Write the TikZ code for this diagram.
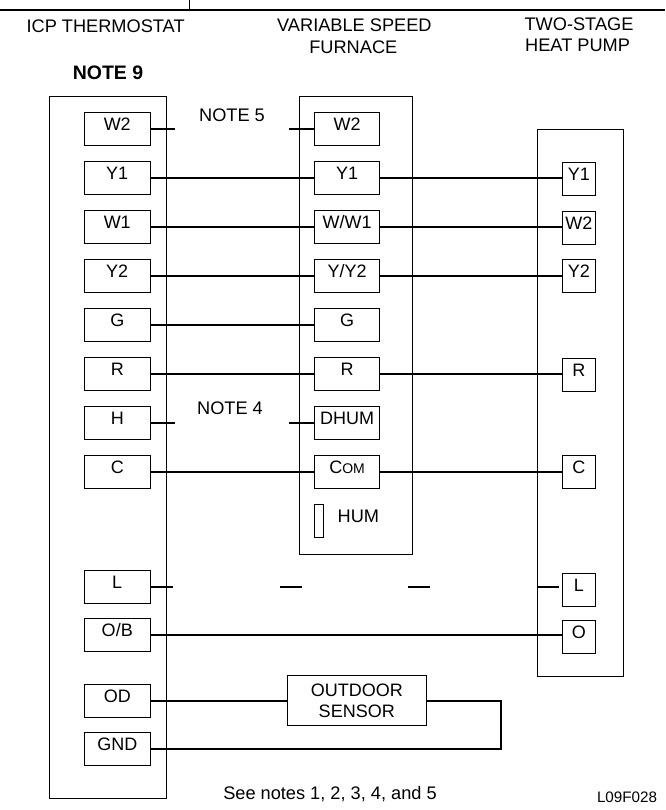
\documentclass[tikz,border=0pt]{standalone}
\usepackage{fontspec}
\setmainfont{Liberation Sans}
\newcommand{\tl}[1]{\raisebox{-1.5pt}[0pt][0pt]{#1}}
\tikzset{
  x=1pt,y=-1pt,
  housing/.style={draw=black,line width=1pt,inner sep=0pt,anchor=north west},
  terminal/.style={draw=black,line width=1pt,inner sep=0pt,font=\fontsize{18}{20}\selectfont,minimum height=33pt},
  lterm/.style={terminal,minimum width=65.7pt},
  rterm/.style={terminal,minimum width=33pt},
  wire/.style={draw=black,line width=1.8pt},
  txt/.style={inner sep=0pt,anchor=base,font=\fontsize{18.2}{20}\selectfont},
  sensorbox/.style={draw=black,line width=1pt,inner sep=0pt,minimum width=138.5pt,minimum height=49.3pt,align=center,font=\fontsize{18}{21.3}\selectfont},
}
\begin{document}
\begin{tikzpicture}
\useasboundingbox (0,0) rectangle (665,810);
\fill[white] (0,0) rectangle (665,810);
% header rule
\coordinate (ruleL) at (0,9.7);
\coordinate (ruleR) at (665,9.7);
\coordinate (tickT) at (189.6,0);
\coordinate (tickB) at (189.6,9.7);
\draw[line width=2.2pt] (ruleL) -- (ruleR);
\draw[line width=1.3pt] (tickT) -- (tickB);
% titles
\node[txt] (t1) at (105.6,32.3) {ICP THERMOSTAT};
\node[txt] (t2a) at (354.4,32) {VARIABLE SPEED};
\node[txt] (t2b) at (353.3,53.3) {FURNACE};
\node[txt] (t3a) at (579,30.7) {TWO-STAGE};
\node[txt] (t3b) at (577.6,51.3) {HEAT PUMP};
\node[txt,font=\fontsize{19.5}{22}\selectfont\bfseries] (n9) at (108,80) {NOTE 9};
\node[txt] (n5) at (232,122) {NOTE 5};
\node[txt] (n4) at (230,414) {NOTE 4};
% housings
\node[housing,minimum width=117pt,minimum height=701.5pt] (boxL) at (49,96.5) {};
\node[housing,minimum width=113.5pt,minimum height=457.5pt] (boxM) at (298.5,96.5) {};
\node[housing,minimum width=86.1pt,minimum height=546.7pt] (boxR) at (537.3,129.3) {};
% left terminals
\node[lterm] (lW2) at (117.25,129.2) {\tl{W2}};
\node[lterm] (lY1) at (117.25,178.2) {\tl{Y1}};
\node[lterm] (lW1) at (117.25,227) {\tl{W1}};
\node[lterm] (lY2) at (117.25,276.3) {\tl{Y2}};
\node[lterm] (lG) at (117.25,324.8) {\tl{G}};
\node[lterm] (lR) at (117.25,374.3) {\tl{R}};
\node[lterm] (lH) at (117.25,423) {\tl{H}};
\node[lterm] (lC) at (117.25,472.3) {\tl{C}};
\node[lterm] (lL) at (117.25,586.6) {\tl{L}};
\node[lterm] (lOB) at (117.25,634.8) {\tl{O/B}};
\node[lterm] (lOD) at (117.25,700.6) {\tl{OD}};
\node[lterm] (lGND) at (117.25,749.3) {\tl{GND}};
% furnace terminals
\node[lterm] (mW2) at (347.1,129.2) {\tl{W2}};
\node[lterm] (mY1) at (347.1,178.2) {\tl{Y1}};
\node[lterm] (mW1) at (347.1,227) {\tl{W/W1}};
\node[lterm] (mY2) at (347.1,276.3) {\tl{Y/Y2}};
\node[lterm] (mG) at (347.1,324.8) {\tl{G}};
\node[lterm] (mR) at (347.1,374.3) {\tl{R}};
\node[lterm] (mD) at (347.1,423) {\tl{DHUM}};
\node[lterm] (mC) at (347.1,472.3) {\tl{C{\fontsize{14}{16}\selectfont OM}}};
\node[draw=black,line width=1pt,inner sep=0pt,minimum width=9pt,minimum height=33pt] (mHUM) at (318.7,520.8) {};
\node[txt] (hum) at (358.4,522.3) {HUM};
% heat pump terminals
\node[rterm] (rY1) at (578.85,179) {\tl{Y1}};
\node[rterm] (rW2) at (578.85,228.3) {\tl{W2}};
\node[rterm] (rY2) at (578.85,276.3) {\tl{Y2}};
\node[rterm] (rR) at (578.85,374.7) {\tl{R}};
\node[rterm] (rC) at (578.85,472.3) {\tl{C}};
\node[rterm] (rL) at (578.85,589.5) {\tl{L}};
\node[rterm] (rO) at (578.85,636.8) {\tl{O}};
% sensor
\node[sensorbox] (sensor) at (356.75,700.6) {OUTDOOR\\SENSOR};
% free wire ends
\coordinate (sW2a) at (175,129.2);
\coordinate (sW2b) at (289.2,129.2);
\coordinate (sHa) at (175,423);
\coordinate (sHb) at (289.2,423);
\coordinate (sLa) at (173,586.6);
\coordinate (sLb) at (279.5,586.6);
\coordinate (sLc) at (301.5,586.6);
\coordinate (sLd) at (408,586.6);
\coordinate (sLe) at (430,586.6);
\coordinate (sLf) at (537,586.6);
\coordinate (sLg) at (559,586.6);
\coordinate (elbow) at (501,749.3);
% wires
\draw[wire] (lW2.east) -- (sW2a);
\draw[wire] (sW2b) -- (mW2.west);
\draw[wire] (lY1.east) -- (mY1.west);
\draw[wire] (mY1.east) -- (mY1.east -| rY1.west);
\draw[wire] (lW1.east) -- (mW1.west);
\draw[wire] (mW1.east) -- (mW1.east -| rW2.west);
\draw[wire] (lY2.east) -- (mY2.west);
\draw[wire] (mY2.east) -- (rY2.west);
\draw[wire] (lG.east) -- (mG.west);
\draw[wire] (lR.east) -- (mR.west);
\draw[wire] (mR.east) -- (mR.east -| rR.west);
\draw[wire] (lH.east) -- (sHa);
\draw[wire] (sHb) -- (mD.west);
\draw[wire] (lC.east) -- (mC.west);
\draw[wire] (mC.east) -- (rC.west);
\draw[wire] (lL.east) -- (sLa);
\draw[wire] (sLb) -- (sLc);
\draw[wire] (sLd) -- (sLe);
\draw[wire] (sLf) -- (sLg);
\draw[wire] (lOB.east) -- (lOB.east -| rO.west);
\draw[wire] (lOD.east) -- (sensor.west);
\draw[wire] (lGND.east) -- (elbow) -- (elbow |- sensor.east) -- (sensor.east);
% footer
\node[txt] (see) at (330,799.3) {See notes 1, 2, 3, 4, and 5};
\node[txt,font=\fontsize{15.2}{18}\selectfont] (code) at (627,802) {L09F028};
\end{tikzpicture}
\end{document}
